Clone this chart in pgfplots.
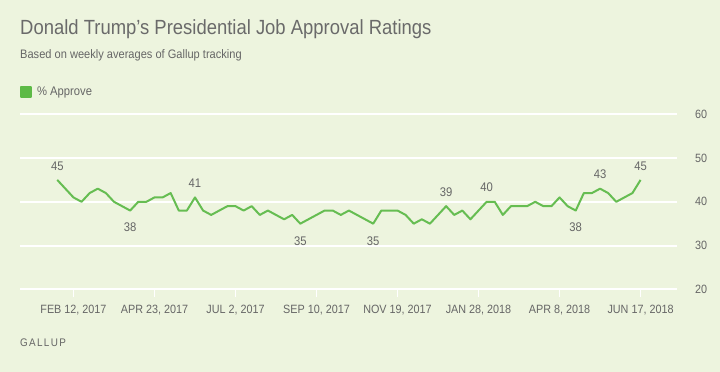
\documentclass[border=0pt]{standalone}
\usepackage{fontspec}
\setmainfont{Liberation Sans}[FakeStretch=0.9]
\usepackage{pgfplots}
\pgfplotsset{compat=1.18}
\definecolor{bgcol}{HTML}{EDF4DE}
\definecolor{linegreen}{HTML}{66BD52}
\definecolor{legendgreen}{HTML}{5DBA46}
\definecolor{txtgray}{HTML}{666666}
\definecolor{titlegray}{HTML}{6A6A6A}
\begin{document}
\begin{tikzpicture}
\fill[bgcol] (0,0) rectangle (720bp,372bp);
\node[anchor=base west, inner sep=0pt, text=titlegray, font=\fontsize{20.5bp}{24bp}\selectfont] at (20bp,337bp) {Donald Trump\symbol{39}s Presidential Job Approval Ratings};
\node[anchor=base west, inner sep=0pt, text=txtgray, font=\fontsize{12.3bp}{14bp}\selectfont] at (20bp,313bp) {Based on weekly averages of Gallup tracking};
\node[anchor=base west, inner sep=0pt, text=txtgray, font=\fontsize{11bp}{13bp}\selectfont\addfontfeature{LetterSpace=12}] at (20bp,26bp) {GALLUP};
\begin{axis}[
  at={(20bp,82.7bp)}, anchor=south west,
  scale only axis, width=657bp, height=175bp,
  xmin=-4.6, xmax=76.5, ymin=20, ymax=60,
  clip=false,
  axis line style={draw=none},
  /pgf/number format/assume math mode=true,
  ymajorgrids, grid style={white, line width=2bp},
  ytick={20,30,40,50,60},
  yticklabel pos=right,
  ytick style={draw=none},
  yticklabel style={anchor=west, inner sep=0pt, xshift=10bp, text=txtgray, font=\fontsize{12bp}{14bp}\selectfont},
  xtick={2,12,22,32,42,52,62,72},
  xticklabels={FEB 12{,} 2017, APR 23{,} 2017, JUL 2{,} 2017, SEP 10{,} 2017, NOV 19{,} 2017, JAN 28{,} 2018, APR 8{,} 2018, JUN 17{,} 2018},
  xtick pos=lower,
  tick align=outside,
  major tick length=8bp,
  xtick style={white, line width=1.5bp},
  xticklabel style={inner sep=0pt, yshift=-8bp, text=txtgray, font=\fontsize{12bp}{14bp}\selectfont},
  legend style={at={(axis description cs:0,1.13)}, anchor=west, draw=none, fill=none, inner sep=0pt, outer sep=0pt, text=txtgray, font=\fontsize{12.5bp}{14bp}\selectfont, legend cell align=left,
    nodes={inner sep=0pt}, /tikz/every odd column/.append style={column sep=5bp}},
]
\addplot[linegreen, line width=2bp, mark=none, line join=round,
  legend image code/.code={\fill[legendgreen] (0bp,-5bp) rectangle (10bp,5bp);}]
  table[x=i, y=v] {
i v
0 45
1 43
2 41
3 40
4 42
5 43
6 42
7 40
8 39
9 38
10 40
11 40
12 41
13 41
14 42
15 38
16 38
17 41
18 38
19 37
20 38
21 39
22 39
23 38
24 39
25 37
26 38
27 37
28 36
29 37
30 35
31 36
32 37
33 38
34 38
35 37
36 38
37 37
38 36
39 35
40 38
41 38
42 38
43 37
44 35
45 36
46 35
47 37
48 39
49 37
50 38
51 36
52 38
53 40
54 40
55 37
56 39
57 39
58 39
59 40
60 39
61 39
62 41
63 39
64 38
65 42
66 42
67 43
68 42
69 40
70 41
71 42
72 45
};
\addlegendentry{\% Approve}
\addplot[forget plot, draw=none, mark=none, nodes near coords,
  every node near coord/.append style={anchor=south, inner sep=0pt, yshift=9.5bp, text=txtgray, font=\fontsize{12.5bp}{14bp}\selectfont}]
  coordinates {(0,45) (17,41) (48,39) (53,40) (67,43) (72,45)};
\addplot[forget plot, draw=none, mark=none, nodes near coords,
  every node near coord/.append style={anchor=north, inner sep=0pt, yshift=-12.5bp, text=txtgray, font=\fontsize{12.5bp}{14bp}\selectfont}]
  coordinates {(9,38) (30,35) (39,35) (64,38)};
\end{axis}
\end{tikzpicture}
\end{document}
